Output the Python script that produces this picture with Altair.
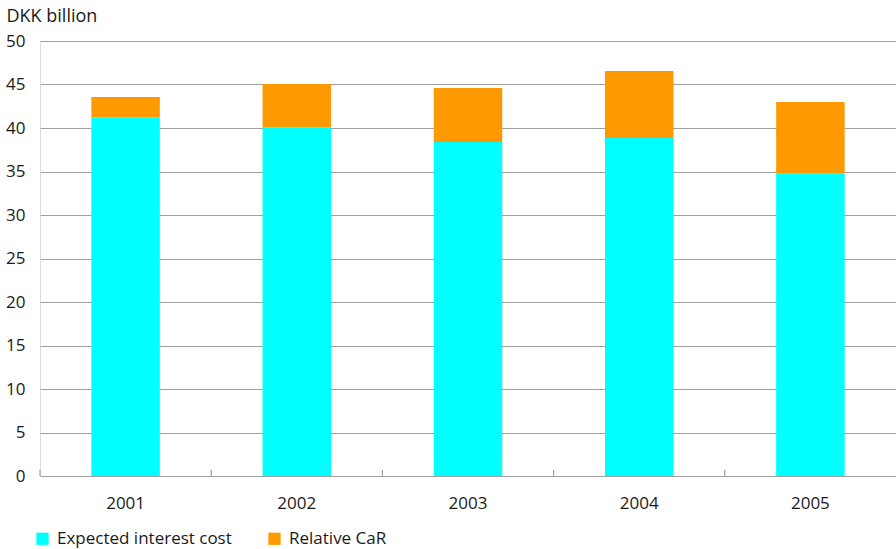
import altair as alt
import pandas as pd

years = ["2001", "2002", "2003", "2004", "2005"]
expected_cost = [41.2, 40.1, 38.4, 38.85, 34.8]
relative_car = [2.35, 4.95, 6.2, 7.7, 8.2]

series_names = ["Expected interest cost", "Relative CaR"]
series_colors = ["#00ffff", "#ff9900"]

rows = []
for y, e, r in zip(years, expected_cost, relative_car):
    rows.append({"year": y, "series": series_names[0], "value": e, "rank": 0})
    rows.append({"year": y, "series": series_names[1], "value": r, "rank": 1})
df = pd.DataFrame(rows)

FONT = "Open Sans"
FS = 17
TEXT = "#1a1a1a"
LINE = "#a0a0a0"

# Band scale without padding: each band spans one full category slot,
# bars take 40% of it and the band starts mark the category boundaries.
x_scale = alt.Scale(domain=years, paddingInner=0, paddingOuter=0)

x_enc = alt.X(
    "year:N",
    sort=years,
    scale=x_scale,
    axis=alt.Axis(
        title=None,
        labelAngle=0,
        domain=False,
        ticks=False,
        labelPadding=19,
        labelFontSize=FS,
        labelColor=TEXT,
        labelFont=FONT,
        grid=False,
    ),
)

bars = (
    alt.Chart(df)
    .mark_bar(width={"band": 0.4})
    .encode(
        x=x_enc,
        y=alt.Y(
            "value:Q",
            stack="zero",
            scale=alt.Scale(domain=[0, 50], nice=False),
            axis=alt.Axis(
                values=list(range(0, 51, 5)),
                title="DKK billion",
                titleAngle=0,
                titleAlign="left",
                titleBaseline="alphabetic",
                titleX=-34,
                titleY=-20,
                titleFont=FONT,
                titleFontSize=18,
                titleFontWeight="normal",
                titleColor=TEXT,
                labelFont=FONT,
                labelFontSize=FS,
                labelColor=TEXT,
                labelPadding=15,
                ticks=False,
                domain=False,
                gridColor=LINE,
                gridWidth=1.2,
            ),
        ),
        color=alt.Color(
            "series:N",
            scale=alt.Scale(domain=series_names, range=series_colors),
            legend=alt.Legend(
                title=None,
                orient="none",
                direction="horizontal",
                legendX=-6,
                legendY=489,
                symbolType="square",
                symbolSize=150,
                symbolStrokeWidth=0,
                labelFont=FONT,
                labelFontSize=FS,
                labelColor=TEXT,
                labelOffset=6,
                labelLimit=400,
                columnPadding=34,
            ),
        ),
        order=alt.Order("rank:Q"),
    )
)

# short upward ticks on the category boundaries along the baseline
boundaries = (
    alt.Chart(pd.DataFrame({"year": years}))
    .mark_rule(color=LINE, strokeWidth=1.2)
    .encode(
        x=alt.X("year:N", sort=years, scale=x_scale, bandPosition=0),
        y=alt.value(429),
        y2=alt.value(435),
    )
)

chart = (
    alt.layer(bars, boundaries)
    .properties(
        width=856,
        height=435,
        autosize=alt.AutoSizeParams(type="none"),
        padding={"left": 40, "top": 41, "right": 0, "bottom": 73},
    )
    .configure_view(stroke=None)
    .configure(background="white")
)

chart.save("out.html", embed_options={"renderer": "svg", "actions": False})
